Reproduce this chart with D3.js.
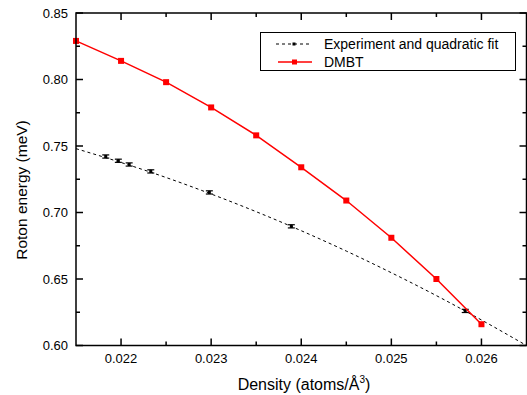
<!DOCTYPE html>
<html><head><meta charset="utf-8">
<script src="https://cdn.jsdelivr.net/npm/d3@7"></script>
<style>body{margin:0;background:#fff}svg{display:block}text{font-family:"Liberation Sans",Arial,sans-serif}</style>
</head><body><svg id="c" width="527" height="395"></svg>
<script>
const dmbtX = [0.0215,0.022,0.0225,0.023,0.0235,0.024,0.0245,0.025,0.0255,0.026];
const dmbtY = [0.829,0.814,0.798,0.779,0.758,0.734,0.709,0.681,0.650,0.616];
const expX = [0.02183,0.02197,0.02209,0.02233,0.02298,0.02389,0.02582];
const expY = [0.7421,0.7389,0.7361,0.7309,0.7151,0.6896,0.6260];
const expErr = [0.0012,0.0012,0.0012,0.0012,0.0012,0.0012,0.0012];
const fitX = [0.0215,0.022,0.0225,0.023,0.0235,0.024,0.0245,0.025,0.0255,0.026,0.0265];
const fitY = [0.748,0.7376,0.7263,0.7139,0.7006,0.6863,0.6710,0.6547,0.6375,0.6192,0.600];
const xTicks = [0.022,0.023,0.024,0.025,0.026];
const yTicks = [0.60,0.65,0.70,0.75,0.80,0.85];
const legendLabels = ["Experiment and quadratic fit","DMBT"];

const svg = d3.select("#c");
const L=76, R=526.5, T=13, B=345.5;
const x = d3.scaleLinear().domain([0.0215,0.0265]).range([L,R]);
const y = d3.scaleLinear().domain([0.60,0.85]).range([B,T]);
svg.append("clipPath").attr("id","cp").append("rect").attr("x",L).attr("y",T).attr("width",R-L).attr("height",B-T);
const g = svg.append("g");

g.append("path").datum(fitX.map((d,i)=>[d,fitY[i]]))
 .attr("d", d3.line().x(d=>x(d[0])).y(d=>y(d[1])).curve(d3.curveMonotoneX))
 .attr("fill","none").attr("stroke","#000").attr("stroke-width",1).attr("stroke-dasharray","3,3")
 .attr("clip-path","url(#cp)");
const eb = g.append("g");
expX.forEach((d,i)=>{
  const cx=x(d), y1=y(expY[i]-expErr[i]), y2=y(expY[i]+expErr[i]);
  eb.append("line").attr("x1",cx).attr("x2",cx).attr("y1",y1).attr("y2",y2).attr("stroke","#000").attr("stroke-width",1.2);
  [y1,y2].forEach(yy=>eb.append("line").attr("x1",cx-3.5).attr("x2",cx+3.5).attr("y1",yy).attr("y2",yy).attr("stroke","#000").attr("stroke-width",1.2));
  eb.append("rect").attr("x",cx-1.5).attr("y",y(expY[i])-1.5).attr("width",3).attr("height",3).attr("fill","#000");
});
g.append("path").datum(dmbtX.map((d,i)=>[d,dmbtY[i]]))
 .attr("d", d3.line().x(d=>x(d[0])).y(d=>y(d[1])))
 .attr("fill","none").attr("stroke","#ff0000").attr("stroke-width",1.5);
g.selectAll(".m").data(dmbtX).enter().append("rect")
 .attr("x",(d)=>x(d)-3).attr("y",(d,i)=>y(dmbtY[i])-3).attr("width",6).attr("height",6).attr("fill","#ff0000");

const ax = svg.append("g").attr("stroke","#000").attr("stroke-width",1.5).attr("fill","none");
ax.append("rect").attr("x",L).attr("y",T).attr("width",R-L).attr("height",B-T);
const xMinor = [0.0225,0.0235,0.0245,0.0255];
const yMinor = [0.625,0.675,0.725,0.775,0.825];
xTicks.forEach(v=>{ax.append("line").attr("x1",x(v)).attr("x2",x(v)).attr("y1",B).attr("y2",B-7);ax.append("line").attr("x1",x(v)).attr("x2",x(v)).attr("y1",T).attr("y2",T+7);});
xMinor.forEach(v=>{ax.append("line").attr("x1",x(v)).attr("x2",x(v)).attr("y1",B).attr("y2",B-4);ax.append("line").attr("x1",x(v)).attr("x2",x(v)).attr("y1",T).attr("y2",T+4);});
yTicks.forEach(v=>{ax.append("line").attr("x1",L).attr("x2",L+7).attr("y1",y(v)).attr("y2",y(v));ax.append("line").attr("x1",R).attr("x2",R-7).attr("y1",y(v)).attr("y2",y(v));});
yMinor.forEach(v=>{ax.append("line").attr("x1",L).attr("x2",L+4).attr("y1",y(v)).attr("y2",y(v));ax.append("line").attr("x1",R).attr("x2",R-4).attr("y1",y(v)).attr("y2",y(v));});

const fmtY = d3.format(".2f");
svg.selectAll(".yl").data(yTicks).enter().append("text")
 .attr("x",68).attr("y",d=>y(d)).attr("dy","0.35em").attr("text-anchor","end").attr("font-size",13).text(d=>fmtY(d));
svg.selectAll(".xl").data(xTicks).enter().append("text")
 .attr("x",d=>x(d)).attr("y",362.5).attr("text-anchor","middle").attr("font-size",13).text(d=>d3.format(".3f")(d));

svg.append("text").attr("transform","translate(27,190) rotate(-90)").attr("text-anchor","middle").attr("font-size",15.5).text("Roton energy (meV)");
const xt = svg.append("text").attr("x",304).attr("y",390).attr("text-anchor","middle").attr("font-size",16);
xt.append("tspan").text("Density (atoms/Å");
xt.append("tspan").attr("font-size",10).attr("dy",-7).text("3");
xt.append("tspan").attr("dy",7).text(")");

const lg = svg.append("g");
lg.append("rect").attr("x",260.5).attr("y",32.5).attr("width",255).attr("height",38).attr("fill","#fff").attr("stroke","#000").attr("stroke-width",1);
lg.append("line").attr("x1",276).attr("x2",312).attr("y1",44).attr("y2",44).attr("stroke","#000").attr("stroke-dasharray","3,3");
lg.append("rect").attr("x",292.5).attr("y",42.5).attr("width",3).attr("height",3).attr("fill","#000");
lg.append("line").attr("x1",278).attr("x2",312).attr("y1",62).attr("y2",62).attr("stroke","#ff0000").attr("stroke-width",1.5);
lg.append("rect").attr("x",292).attr("y",59.5).attr("width",5).attr("height",5).attr("fill","#ff0000");
legendLabels.forEach((t,i)=>lg.append("text").attr("x",324).attr("y",44+i*18).attr("dy","0.35em").attr("font-size",14).text(t));
</script></body></html>
